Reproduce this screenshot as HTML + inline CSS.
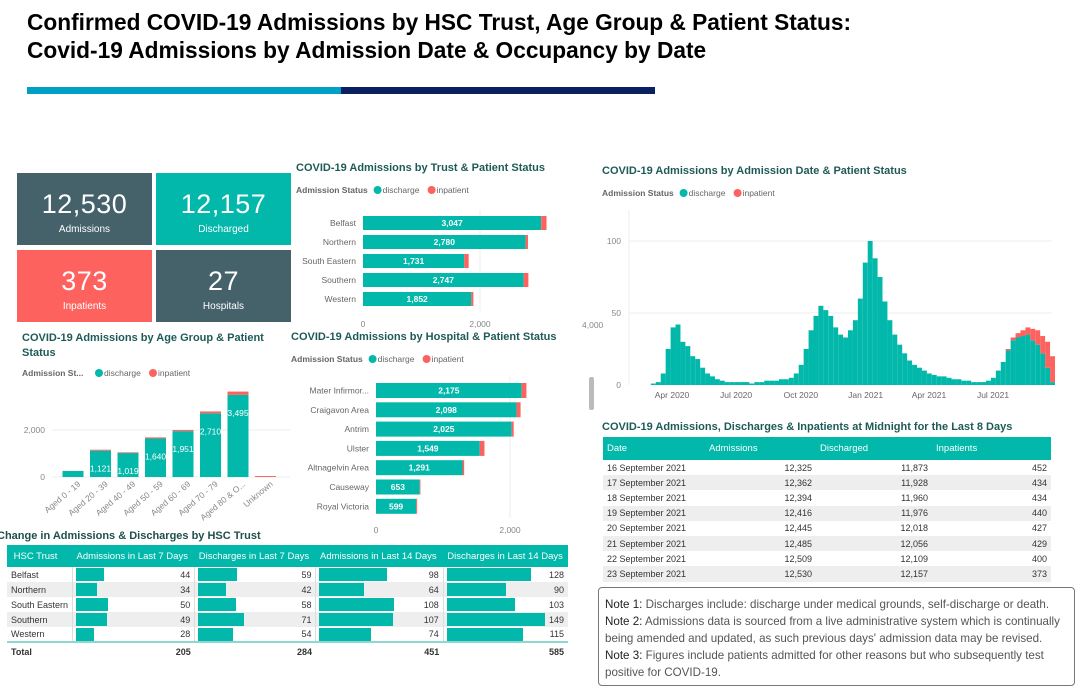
<!DOCTYPE html>
<html><head><meta charset="utf-8">
<style>
*{margin:0;padding:0;box-sizing:border-box}
body{width:1080px;height:696px;background:#fff;position:relative;overflow:hidden;font-family:"Liberation Sans",sans-serif}
.abs{position:absolute}
.h1{left:27px;font-weight:bold;font-size:22.7px;color:#000;white-space:nowrap}
.tile{position:absolute;color:#fff;text-align:center}
.tile .n{font-size:27px;margin-top:16px;letter-spacing:0.5px}
.tile .l{font-size:10px;margin-top:4px}
.ct{position:absolute;font-weight:bold;font-size:11px;color:#1e5b57;white-space:nowrap}
table{border-collapse:collapse;font-size:9px;color:#333}
td,th{padding:0 4px;white-space:nowrap}
th{background:#01b8aa;color:#fff;font-weight:normal;text-align:left;font-size:9.5px}
.note{font-size:11.6px;color:#555;line-height:17px}
.note b{font-weight:normal;color:#222}
</style></head><body>
<div class="abs h1" style="top:9px">Confirmed COVID-19 Admissions by HSC Trust, Age Group &amp; Patient Status:</div>
<div class="abs h1" style="top:37px">Covid-19 Admissions by Admission Date &amp; Occupancy by Date</div>
<div class="abs" style="left:27px;top:87px;width:314px;height:7px;background:#00a0c6"></div>
<div class="abs" style="left:341px;top:87px;width:314px;height:7px;background:#0a2060"></div>

<div class="tile" style="left:17px;top:173px;width:135px;height:72px;background:#45626b"><div class="n">12,530</div><div class="l">Admissions</div></div>
<div class="tile" style="left:156px;top:173px;width:135px;height:72px;background:#01b8aa"><div class="n">12,157</div><div class="l">Discharged</div></div>
<div class="tile" style="left:17px;top:250px;width:135px;height:72px;background:#fd625e"><div class="n">373</div><div class="l">Inpatients</div></div>
<div class="tile" style="left:156px;top:250px;width:135px;height:72px;background:#45626b"><div class="n">27</div><div class="l">Hospitals</div></div>

<div class="ct" style="left:296px;top:162px">COVID-19 Admissions by Trust &amp; Patient Status</div>
<div class="ct" style="left:22px;top:331px;line-height:15px">COVID-19 Admissions by Age Group &amp; Patient<br>Status</div>
<div class="ct" style="left:291px;top:331px">COVID-19 Admissions by Hospital &amp; Patient Status</div>
<div class="ct" style="left:602px;top:165px">COVID-19 Admissions by Admission Date &amp; Patient Status</div>
<div class="ct" style="left:-3px;top:530px;color:#1e4f4c">Change in Admissions &amp; Discharges by HSC Trust</div>
<div class="ct" style="left:602px;top:421px">COVID-19 Admissions, Discharges &amp; Inpatients at Midnight for the Last 8 Days</div>

<svg id="svg" class="abs" style="left:0;top:0" width="1080" height="696"></svg>

<table class="abs" style="left:7px;top:545px;width:561px" id="ctab">
<tr style="height:22px"><th style="width:63px">&nbsp;HSC Trust</th><th style="width:123px">Admissions in Last 7 Days</th><th style="width:122px">Discharges in Last 7 Days</th><th style="width:128px">Admissions in Last 14 Days</th><th style="width:125px">Discharges in Last 14 Days</th></tr>
</table>

<table class="abs" style="left:603px;top:437px;width:448px" id="ltab">
<tr style="height:23px"><th style="width:102px">Date</th><th style="width:111px">Admissions</th><th style="width:116px">Discharged</th><th style="width:119px">Inpatients</th></tr>
</table>

<div class="abs" style="left:589px;top:377px;width:5px;height:33px;background:#bbb;border-radius:2px"></div>

<div class="abs note" style="left:598px;top:587px;width:477px;height:99px;border:1px solid #777;border-radius:4px;padding:8px 0 0 6px">
<div><b>Note 1:</b> Discharges include: discharge under medical grounds, self-discharge or death.</div>
<div><b>Note 2:</b> Admissions data is sourced from a live administrative system which is continually being amended and updated, as such previous days' admission data may be revised.</div>
<div><b>Note 3:</b> Figures include patients admitted for other reasons but who subsequently test positive for COVID-19.</div>
</div>

<script>
const TEAL='#01b8aa', RED='#fd625e';
const trustNames=['Belfast','Northern','South Eastern','Southern','Western'];
const trustDischarge=[3047,2780,1731,2747,1852];
const trustInpatient=[90,40,75,80,35];
const ageNames=['Aged 0 - 19','Aged 20 - 39','Aged 40 - 49','Aged 50 - 59','Aged 60 - 69','Aged 70 - 79','Aged 80 & O...','Unknown'];
const ageDischarge=[255,1121,1019,1640,1951,2710,3495,0];
const ageInpatient=[5,40,30,45,50,80,140,40];
const ageLabels=['','1,121','1,019','1,640','1,951','2,710','3,495',''];
const hospNames=['Mater Infirmor...','Craigavon Area','Antrim','Ulster','Altnagelvin Area','Causeway','Royal Victoria'];
const hospDischarge=[2175,2098,2025,1549,1291,653,599];
const hospInpatient=[70,60,30,70,25,10,15];
const tsStart='2020-03-02';
const tsDischarge=[1,2,8,25,40,42,30,27,20,18,12,8,6,4,3,2,2,2,2,2,1,2,2,3,3,3,4,4,5,8,14,25,38,48,55,52,48,40,35,33,38,45,60,85,100,88,75,58,45,35,28,22,17,14,12,10,8,7,6,6,5,4,4,3,3,2,2,2,3,5,10,16,24,31,33,34,35,31,28,22,12,2];
const tsInpatient=[0,0,0,0,0,0,0,0,0,0,0,0,0,0,0,0,0,0,0,0,0,0,0,0,0,0,0,0,0,0,0,0,0,0,0,0,0,0,0,0,0,0,0,0,0,0,0,0,0,0,0,0,0,0,0,0,0,0,0,0,0,0,0,0,0,0,0,0,0,0,0,0,1,2,3,4,5,8,10,12,18,18];
const tsTickLabels=['Apr 2020','Jul 2020','Oct 2020','Jan 2021','Apr 2021','Jul 2021'];
const tsTickDates=['2020-04-01','2020-07-01','2020-10-01','2021-01-01','2021-04-01','2021-07-01'];
const chTrust=['Belfast','Northern','South Eastern','Southern','Western'];
const chAdm7=[44,34,50,49,28];
const chDis7=[59,42,58,71,54];
const chAdm14=[98,64,108,107,74];
const chDis14=[128,90,103,149,115];
const chTotals=[205,284,451,585];
const l8Dates=['16 September 2021','17 September 2021','18 September 2021','19 September 2021','20 September 2021','21 September 2021','22 September 2021','23 September 2021'];
const l8Adm=['12,325','12,362','12,394','12,416','12,445','12,485','12,509','12,530'];
const l8Dis=['11,873','11,928','11,960','11,976','12,018','12,056','12,109','12,157'];
const l8Inp=['452','434','434','440','427','429','400','373'];

const svg=document.getElementById('svg');
const NS='http://www.w3.org/2000/svg';
function mk(tag,a,txt){const e=document.createElementNS(NS,tag);for(const k in a)e.setAttribute(k,a[k]);if(txt!==undefined)e.textContent=txt;svg.appendChild(e);return e;}

function legend(x,y,label){
  let t=mk('text',{x:x,y:y,'font-size':8.5,'font-weight':'bold',fill:'#666','font-family':'Liberation Sans'},label);
  
  let w=label.length*4.6+4;
  let c=mk('circle',{cx:x+w+4,cy:y-3,r:4,fill:TEAL});
  
  t=mk('text',{x:x+w+9,y:y,'font-size':8.5,fill:'#666'},'discharge');
  
  c=mk('circle',{cx:x+w+58,cy:y-3,r:4,fill:RED});
  
  t=mk('text',{x:x+w+63,y:y,'font-size':8.5,fill:'#666'},'inpatient');
  
}
legend(296,193,'Admission Status');
legend(22,376,'Admission St...');
legend(291,362,'Admission Status');
legend(602,196,'Admission Status');

function hbar(names,dis,inp,x0,px2000,y0,step,bh,pre,axisY){
  const sx=v=>x0+v*px2000/2000;
  let g=mk('line',{x1:sx(2000),x2:sx(2000),y1:y0-6,y2:y0+step*names.length,stroke:'#eee'});
  
  names.forEach((n,i)=>{
    const y=y0+i*step;
    let t=mk('text',{x:x0-7,y:y+bh/2+3,'font-size':8.5,fill:'#666','text-anchor':'end'},n);
    
    let r=mk('rect',{x:x0,y:y,width:sx(dis[i])-x0,height:bh,fill:TEAL});
    
    r=mk('rect',{x:sx(dis[i]),y:y,width:sx(inp[i])-x0,height:bh,fill:RED});
    
    t=mk('text',{x:(x0+sx(dis[i]))/2,y:y+bh/2+3,'font-size':8.5,'font-weight':'bold',fill:'#fff','text-anchor':'middle'},dis[i].toLocaleString('en-US'));
    
  });
  [0,2000].forEach(v=>{let t=mk('text',{x:sx(v),y:axisY,'font-size':8.5,fill:'#888','text-anchor':'middle'},v.toLocaleString('en-US'));
    });
}
hbar(trustNames,trustDischarge,trustInpatient,363,117,216,19,14,'trust',327);
hbar(hospNames,hospDischarge,hospInpatient,376,134,383,19.3,15,'hosp',533);

(function(){
  const y0=477, sy=v=>y0-v*47/2000, x0=60, step=27.5, bw=21;
  let g=mk('line',{x1:52,x2:290,y1:sy(2000),y2:sy(2000),stroke:'#eee'});
  
  g=mk('line',{x1:52,x2:290,y1:y0,y2:y0,stroke:'#eee'});
  
  [0,2000].forEach(v=>{let t=mk('text',{x:45,y:sy(v)+3,'font-size':8.5,fill:'#888','text-anchor':'end'},v.toLocaleString('en-US'));
    });
  ageNames.forEach((n,i)=>{
    const cx=x0+13+i*step;
    let r=mk('rect',{x:cx-bw/2,y:sy(ageDischarge[i]),width:bw,height:y0-sy(ageDischarge[i]),fill:TEAL});
    
    r=mk('rect',{x:cx-bw/2,y:sy(ageDischarge[i]+ageInpatient[i]),width:bw,height:y0-sy(ageInpatient[i]),fill:RED});
    
    if(ageLabels[i]){let t=mk('text',{x:cx,y:sy(ageDischarge[i])+21,'font-size':8.5,fill:'#fff','text-anchor':'middle'},ageLabels[i]);
      }
    let t=mk('text',{x:cx+8,y:y0+8,'font-size':8.5,fill:'#888','text-anchor':'end',transform:`rotate(-40 ${cx+8} ${y0+8})`},n);
    
  });
})();

(function(){
  const d0=new Date('2020-04-01').getTime(), day=86400000, pxd=0.704;
  const sx=d=>672+(new Date(d).getTime()-d0)/day*pxd;
  const y0=385, sy=v=>y0-v*72/50;
  [50,100].forEach(v=>{let g=mk('line',{x1:629,x2:1052,y1:sy(v),y2:sy(v),stroke:'#eee'});
    });
  let ax=mk('line',{x1:629,x2:629,y1:210,y2:385,stroke:'#eee'});
  
  [0,50,100].forEach(v=>{let t=mk('text',{x:621,y:sy(v)+3,'font-size':8.5,fill:'#888','text-anchor':'end'},v);
    });
  let t4=mk('text',{x:582,y:328,'font-size':8.5,fill:'#888'},'4,000');
  
  const s=new Date(tsStart).getTime();
  tsDischarge.forEach((v,i)=>{
    const x=sx(s+i*7*day), w=7*pxd;
    let r=mk('rect',{x:x,y:sy(v),width:w,height:y0-sy(v),fill:TEAL});
    
    if(tsInpatient[i]>0){r=mk('rect',{x:x,y:sy(v+tsInpatient[i]),width:w,height:y0-sy(tsInpatient[i]),fill:RED});
      }
  });
  tsTickLabels.forEach((l,i)=>{let t=mk('text',{x:sx(tsTickDates[i]),y:398,'font-size':8.5,fill:'#666','text-anchor':'middle'},l);
    });
})();

(function(){
  const tb=document.getElementById('ctab');
  const cols=[chAdm7,chDis7,chAdm14,chDis14], scale=[0.63,0.65,0.69,0.66];
  chTrust.forEach((n,i)=>{
    const tr=document.createElement('tr');
    
    
    tr.style.height='15px';tr.style.background=i%2?'#eee':'#fff';
    let h=`<td>${n}</td>`;
    cols.forEach((c,j)=>{h+=`<td style="position:relative;text-align:right;border-left:1px solid #ddd"><span style="position:absolute;left:3px;top:1px;height:13px;width:${c[i]*scale[j]}px;background:${TEAL}"></span>${c[i]}</td>`;});
    tr.innerHTML=h;tb.appendChild(tr);
  });
  const tr=document.createElement('tr');
  
  
  tr.style.height='18px';tr.style.borderTop='2px solid #8fd8d2';tr.style.fontWeight='bold';
  let h='<td>Total</td>';chTotals.forEach(v=>h+=`<td style="text-align:right">${v}</td>`);
  tr.innerHTML=h;tb.appendChild(tr);
})();
(function(){
  const tb=document.getElementById('ltab');
  l8Dates.forEach((d,i)=>{
    const tr=document.createElement('tr');
    
    
    tr.style.height='15.2px';tr.style.background=i%2?'#eee':'#fff';
    tr.innerHTML=`<td>${d}</td><td style="text-align:right">${l8Adm[i]}</td><td style="text-align:right">${l8Dis[i]}</td><td style="text-align:right">${l8Inp[i]}</td>`;
    tb.appendChild(tr);
  });
})();
</script>
</body></html>
